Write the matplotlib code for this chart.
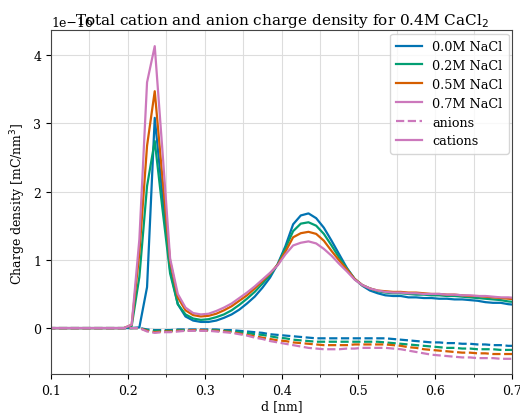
import numpy as np
import matplotlib
matplotlib.use("Agg")
import matplotlib.pyplot as plt
from matplotlib.lines import Line2D
from matplotlib.ticker import MultipleLocator

plt.rcParams['font.family'] = ['DejaVu Serif']
plt.rcParams['font.size'] = 9

# distance [nm]
d = [0.095, 0.195, 0.205, 0.215, 0.225, 0.235, 0.245, 0.255, 0.265, 0.275,
     0.285, 0.295, 0.305, 0.315, 0.325, 0.335, 0.345, 0.355, 0.365, 0.375,
     0.385, 0.395, 0.405, 0.415, 0.425, 0.435, 0.445, 0.455, 0.465, 0.475,
     0.485, 0.495, 0.505, 0.515, 0.525, 0.535, 0.545, 0.555, 0.565, 0.575,
     0.585, 0.595, 0.605, 0.615, 0.625, 0.635, 0.645, 0.655, 0.665, 0.675,
     0.685, 0.695, 0.705]

labels = ["0.0M NaCl", "0.2M NaCl", "0.5M NaCl", "0.7M NaCl"]
colors = ["#0173b2", "#029e73", "#d55e00", "#cc78bc"]

# cation charge density (units of 1e-16)
cat_00 = [0, 0, 0, 0.01, 0.6, 3.08, 1.95, 0.85, 0.35, 0.17,
          0.11, 0.09, 0.09, 0.11, 0.15, 0.2, 0.27, 0.36, 0.46, 0.59,
          0.74, 0.94, 1.2, 1.52, 1.65, 1.68, 1.61, 1.47, 1.28, 1.08,
          0.88, 0.72, 0.62, 0.55, 0.51, 0.48, 0.47, 0.47, 0.45, 0.45,
          0.44, 0.44, 0.43, 0.43, 0.42, 0.42, 0.41, 0.40, 0.38, 0.37,
          0.37, 0.35, 0.34]
cat_02 = [0, 0, 0.03, 0.75, 2.08, 2.74, 1.75, 0.8, 0.35, 0.2,
          0.14, 0.12, 0.13, 0.16, 0.2, 0.26, 0.34, 0.43, 0.53, 0.65,
          0.78, 0.93, 1.17, 1.42, 1.53, 1.55, 1.50, 1.38, 1.21, 1.03,
          0.87, 0.72, 0.63, 0.58, 0.54, 0.52, 0.51, 0.51, 0.50, 0.49,
          0.49, 0.48, 0.48, 0.47, 0.47, 0.46, 0.45, 0.44, 0.43, 0.42,
          0.41, 0.39, 0.38]
cat_05 = [0, 0, 0.05, 1.1, 2.67, 3.47, 2.2, 0.98, 0.45, 0.26,
          0.19, 0.17, 0.18, 0.21, 0.26, 0.32, 0.40, 0.48, 0.58, 0.69,
          0.80, 0.93, 1.12, 1.33, 1.39, 1.41, 1.38, 1.28, 1.13, 0.99,
          0.86, 0.72, 0.63, 0.58, 0.55, 0.54, 0.53, 0.53, 0.52, 0.52,
          0.51, 0.50, 0.50, 0.49, 0.49, 0.48, 0.47, 0.47, 0.46, 0.45,
          0.44, 0.43, 0.42]
cat_07 = [0, 0, 0.05, 1.3, 3.6, 4.13, 2.6, 1.02, 0.5, 0.3,
          0.22, 0.2, 0.21, 0.25, 0.3, 0.36, 0.44, 0.52, 0.61, 0.71,
          0.81, 0.92, 1.08, 1.21, 1.25, 1.27, 1.24, 1.16, 1.06, 0.94,
          0.83, 0.71, 0.63, 0.58, 0.55, 0.53, 0.52, 0.52, 0.51, 0.51,
          0.50, 0.50, 0.50, 0.49, 0.49, 0.48, 0.48, 0.47, 0.47, 0.46,
          0.45, 0.45, 0.44]

# anion charge density (units of 1e-16)
an_00 = [0, 0, 0, 0, -0.02, -0.03, -0.03, -0.03, -0.02, -0.02,
         -0.02, -0.02, -0.02, -0.02, -0.03, -0.03, -0.04, -0.05, -0.06, -0.07,
         -0.09, -0.10, -0.11, -0.12, -0.13, -0.14, -0.15, -0.15, -0.15, -0.15,
         -0.15, -0.15, -0.15, -0.15, -0.15, -0.15, -0.16, -0.17, -0.18, -0.19,
         -0.20, -0.21, -0.21, -0.22, -0.22, -0.23, -0.23, -0.24, -0.24, -0.25,
         -0.25, -0.26, -0.26]
an_02 = [0, 0, 0, 0, -0.03, -0.04, -0.04, -0.04, -0.03, -0.03,
         -0.03, -0.03, -0.03, -0.03, -0.04, -0.05, -0.06, -0.07, -0.09, -0.10,
         -0.12, -0.14, -0.15, -0.17, -0.18, -0.19, -0.20, -0.20, -0.20, -0.20,
         -0.20, -0.20, -0.20, -0.20, -0.20, -0.21, -0.22, -0.23, -0.24, -0.25,
         -0.26, -0.27, -0.28, -0.29, -0.29, -0.30, -0.30, -0.31, -0.31, -0.31,
         -0.32, -0.32, -0.32]
an_05 = [0, 0, 0, 0, -0.04, -0.06, -0.05, -0.05, -0.04, -0.04,
         -0.03, -0.03, -0.04, -0.04, -0.05, -0.06, -0.08, -0.10, -0.12, -0.14,
         -0.16, -0.18, -0.19, -0.21, -0.22, -0.23, -0.24, -0.25, -0.25, -0.25,
         -0.25, -0.24, -0.24, -0.24, -0.24, -0.24, -0.25, -0.26, -0.28, -0.29,
         -0.31, -0.32, -0.33, -0.34, -0.35, -0.36, -0.36, -0.37, -0.37, -0.38,
         -0.38, -0.38, -0.38]
an_07 = [0, 0, 0, 0, -0.05, -0.07, -0.06, -0.06, -0.05, -0.04,
         -0.04, -0.04, -0.04, -0.05, -0.06, -0.07, -0.09, -0.11, -0.14, -0.16,
         -0.19, -0.21, -0.23, -0.25, -0.27, -0.29, -0.30, -0.31, -0.31, -0.31,
         -0.30, -0.30, -0.29, -0.29, -0.29, -0.29, -0.30, -0.31, -0.33, -0.35,
         -0.37, -0.39, -0.40, -0.41, -0.42, -0.43, -0.43, -0.44, -0.44, -0.44,
         -0.45, -0.45, -0.45]

cations = [cat_00, cat_02, cat_05, cat_07]
anions = [an_00, an_02, an_05, an_07]
scale = 1e-16

fig = plt.figure(figsize=(5.2, 4.14), dpi=100)
ax = fig.add_axes([0.098, 0.094, 0.887, 0.830])

x = np.array(d)
for lab, col, c, a in zip(labels, colors, cations, anions):
    ax.plot(x, np.array(c) * scale, color=col, lw=1.6, ls='-')
    ax.plot(x, np.array(a) * scale, color=col, lw=1.6, ls='--')

ax.set_xlim(0.1, 0.7)
ax.set_ylim(-0.674e-16, 4.36e-16)
ax.xaxis.set_major_locator(MultipleLocator(0.1))
ax.xaxis.set_minor_locator(MultipleLocator(0.05))
ax.yaxis.set_major_locator(MultipleLocator(1e-16))
ax.grid(True, which='major', color='#dddddd', lw=0.8)
ax.grid(True, which='minor', axis='x', color='#dddddd', lw=0.8)
ax.set_axisbelow(True)
for s in ax.spines.values():
    s.set_color('#444444')

ax.set_xlabel("d [nm]", labelpad=2)
ax.set_ylabel("Charge density [mC/nm$^3$]")
ax.set_title("Total cation and anion charge density for 0.4M CaCl$_2$",
             fontsize=11, y=1.0, pad=5)

handles = [Line2D([0], [0], color=c, lw=1.6) for c in colors]
handles.append(Line2D([0], [0], color=colors[-1], lw=1.6, ls='--'))
handles.append(Line2D([0], [0], color=colors[-1], lw=1.6, ls='-'))
ax.legend(handles, labels + ["anions", "cations"], loc='upper right',
          fontsize=9.2, labelspacing=0.46, borderpad=0.5, borderaxespad=0.25)

fig.savefig("out.png", dpi=100)
